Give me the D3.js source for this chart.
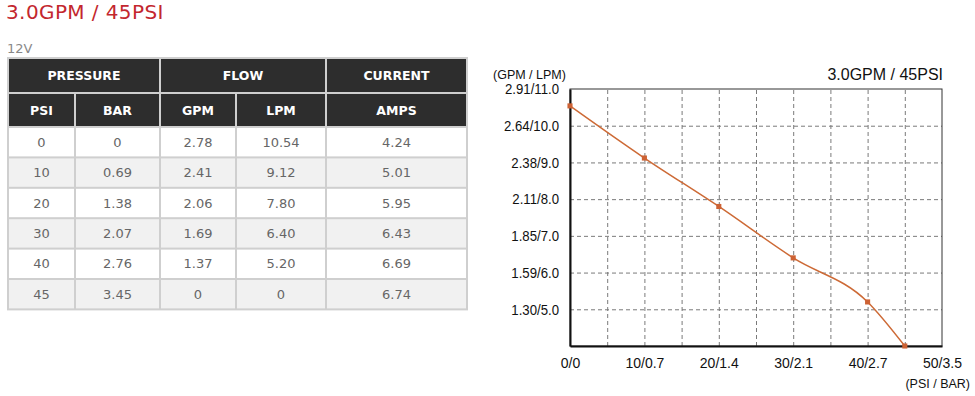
<!DOCTYPE html>
<html>
<head>
<meta charset="utf-8">
<script src="https://cdn.jsdelivr.net/npm/d3@7"></script>
<style>
  html, body { margin: 0; padding: 0; background: #fff; }
  svg { display: block; }
</style>
</head>
<body>
<div id="chart"></div>
<script>
// pump performance data (12V)
const psi = [0, 10, 20, 30, 40, 45];
const bar = [0, 0.69, 1.38, 2.07, 2.76, 3.45];
const gpm = [2.78, 2.41, 2.06, 1.69, 1.37, 0];
const lpm = [10.54, 9.12, 7.80, 6.40, 5.20, 0];
const amps = [4.24, 5.01, 5.95, 6.43, 6.69, 6.74];

// chart axis labels
const psiTicks = [0, 10, 20, 30, 40, 50];
const barTickLabels = ["0", "0.7", "1.4", "2.1", "2.7", "3.5"];
const lpmTicks = [5, 6, 7, 8, 9, 10, 11];
const gpmTickLabels = ["1.30", "1.59", "1.85", "2.11", "2.38", "2.64", "2.91"];
const psiGrid = [5, 10, 15, 20, 25, 30, 35, 40, 45];
const lpmGrid = [5, 6, 7, 8, 9, 10];

const headerTop = [
  { label: "PRESSURE", from: 0, to: 2 },
  { label: "FLOW", from: 2, to: 4 },
  { label: "CURRENT", from: 4, to: 5 }
];
const headerSub = ["PSI", "BAR", "GPM", "LPM", "AMPS"];

const width = 975;
const height = 396;

const svg = d3.select("#chart").append("svg")
  .attr("width", width)
  .attr("height", height);

// page title
svg.append("text")
  .attr("x", 6)
  .attr("y", 18.5)
  .attr("font-family", "DejaVu Sans, Verdana, sans-serif")
  .attr("font-size", 20)
  .attr("letter-spacing", 0.4)
  .attr("fill", "#c3272e")
  .text("3.0GPM / 45PSI");

svg.append("text")
  .attr("x", 7)
  .attr("y", 53)
  .attr("font-family", "DejaVu Sans, Verdana, sans-serif")
  .attr("font-size", 13)
  .attr("fill", "#888")
  .text("12V");

// ---- table ----
const colX = [8, 75, 160, 236, 326, 467];
const rowTop = [58, 93, 127];
const bodyRowH = 30.4;
const tableBottom = rowTop[2] + bodyRowH * psi.length;

const table = svg.append("g").attr("font-family", "DejaVu Sans, Verdana, sans-serif");

table.append("rect")
  .attr("x", colX[0] - 1)
  .attr("y", rowTop[0] - 1)
  .attr("width", colX[5] - colX[0] + 2)
  .attr("height", tableBottom - rowTop[0] + 2)
  .attr("fill", "#cfcfcf");

function cell(x0, x1, y0, y1, fill, label, opts) {
  table.append("rect")
    .attr("x", x0 + 1)
    .attr("y", y0 + 1)
    .attr("width", x1 - x0 - 2)
    .attr("height", y1 - y0 - 2)
    .attr("fill", fill);
  table.append("text")
    .attr("x", (x0 + x1) / 2)
    .attr("y", (y0 + y1) / 2)
    .attr("dy", "0.36em")
    .attr("text-anchor", "middle")
    .attr("font-size", opts.size)
    .attr("font-weight", opts.weight)
    .attr("fill", opts.color)
    .text(label);
}

headerTop.forEach((h) => {
  cell(colX[h.from], colX[h.to], rowTop[0], rowTop[1], "#2d2d2d", h.label,
    { size: 12.5, weight: "bold", color: "#fff" });
});
headerSub.forEach((h, i) => {
  cell(colX[i], colX[i + 1], rowTop[1], rowTop[2], "#2d2d2d", h,
    { size: 12.5, weight: "bold", color: "#fff" });
});

const fmt = (v) => (v === 0 ? "0" : v.toFixed(2));
psi.forEach((p, r) => {
  const y0 = rowTop[2] + r * bodyRowH;
  const y1 = y0 + bodyRowH;
  const fill = r % 2 === 0 ? "#ffffff" : "#f1f1f1";
  const values = [String(p), fmt(bar[r]), fmt(gpm[r]), fmt(lpm[r]), fmt(amps[r])];
  values.forEach((v, i) => {
    cell(colX[i], colX[i + 1], y0, y1, fill, v, { size: 13, weight: "normal", color: "#666" });
  });
});

// ---- chart ----
const plot = { left: 570, right: 942, top: 89, bottom: 346 };

const x = d3.scaleLinear().domain([0, 50]).range([plot.left, plot.right]);
const y = d3.scaleLinear().domain([4, 11]).range([plot.bottom, plot.top]).clamp(true);

const chart = svg.append("g").attr("font-family", "Liberation Sans, Arial, sans-serif");

// grid
chart.append("g")
  .attr("transform", `translate(0,${plot.bottom})`)
  .call(d3.axisBottom(x).tickValues(psiGrid).tickSize(-(plot.bottom - plot.top)).tickFormat(""))
  .call((g) => g.select(".domain").remove())
  .call((g) => g.selectAll("line")
    .attr("stroke", "#7a7a7a")
    .attr("stroke-width", 1)
    .attr("stroke-dasharray", "4,3"));

chart.append("g")
  .attr("transform", `translate(${plot.left},0)`)
  .call(d3.axisLeft(y).tickValues(lpmGrid).tickSize(-(plot.right - plot.left)).tickFormat(""))
  .call((g) => g.select(".domain").remove())
  .call((g) => g.selectAll("line")
    .attr("stroke", "#7a7a7a")
    .attr("stroke-width", 1)
    .attr("stroke-dasharray", "4,3"));

// frame
chart.append("rect")
  .attr("x", plot.left)
  .attr("y", plot.top)
  .attr("width", plot.right - plot.left)
  .attr("height", plot.bottom - plot.top)
  .attr("fill", "none")
  .attr("stroke", "#333")
  .attr("stroke-width", 1);

// y axis
chart.append("g")
  .attr("transform", `translate(${plot.left},0)`)
  .call(d3.axisLeft(y).tickValues(lpmTicks).tickSize(0).tickPadding(12.5)
    .tickFormat((d, i) => `${gpmTickLabels[i]}/${d.toFixed(1)}`))
  .call((g) => g.select(".domain").attr("stroke", "#111").attr("stroke-width", 2))
  .call((g) => g.selectAll("text")
    .attr("font-size", 15)
    .attr("font-family", "Liberation Sans, Arial, sans-serif")
    .attr("fill", "#111")
    .attr("transform", "scale(0.88,1)"));

// x axis
chart.append("g")
  .attr("transform", `translate(0,${plot.bottom})`)
  .call(d3.axisBottom(x).tickValues(psiTicks).tickSize(0).tickPadding(12)
    .tickFormat((d, i) => `${d}/${barTickLabels[i]}`))
  .call((g) => g.select(".domain").attr("stroke", "#111").attr("stroke-width", 2))
  .call((g) => g.selectAll("text")
    .attr("font-size", 14)
    .attr("font-family", "Liberation Sans, Arial, sans-serif")
    .attr("fill", "#111"));

// axis titles
chart.append("text")
  .attr("x", 493)
  .attr("y", 79)
  .attr("font-size", 12.5)
  .attr("fill", "#111")
  .text("(GPM / LPM)");

chart.append("text")
  .attr("x", 970)
  .attr("y", 388)
  .attr("text-anchor", "end")
  .attr("font-size", 12.5)
  .attr("fill", "#111")
  .text("(PSI / BAR)");

chart.append("text")
  .attr("x", 943)
  .attr("y", 80)
  .attr("text-anchor", "end")
  .attr("font-size", 16)
  .attr("fill", "#111")
  .text("3.0GPM / 45PSI");

// curve
const points = psi.map((p, i) => ({ psi: p, lpm: lpm[i] }));
const line = d3.line()
  .x((d) => x(d.psi))
  .y((d) => y(d.lpm))
  .curve(d3.curveMonotoneX);

chart.append("path")
  .datum(points)
  .attr("d", line)
  .attr("fill", "none")
  .attr("stroke", "#cd6a36")
  .attr("stroke-width", 1.5);

chart.append("g")
  .selectAll("path")
  .data(points)
  .join("path")
  .attr("transform", (d) => `translate(${x(d.psi)},${y(d.lpm)})`)
  .attr("d", d3.symbol(d3.symbolSquare, 26))
  .attr("fill", "#cd6234");
</script>
</body>
</html>
